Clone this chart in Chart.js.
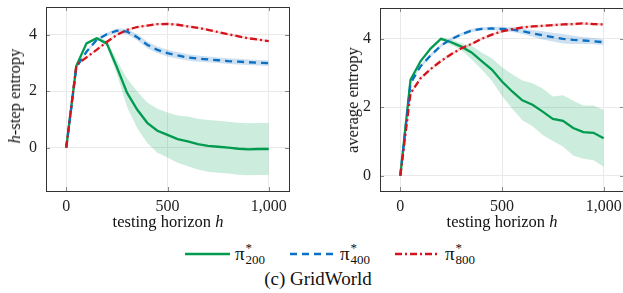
<!DOCTYPE html>
<html>
<head>
<meta charset="utf-8">
<script src="https://cdn.jsdelivr.net/npm/chart.js@4.4.1/dist/chart.umd.min.js"></script>
<style>
  html, body { margin: 0; padding: 0; background: #fff; }
  #wrap { position: relative; width: 623px; height: 293px; font-family: 'Liberation Serif', serif; color: #111; overflow: hidden; }
  canvas { position: absolute; top: 0; }
  .xt { position: absolute; top: 212px; font-size: 16.5px; white-space: nowrap; transform: translateX(-50%); }
  .yt { position: absolute; font-size: 16.5px; white-space: nowrap; transform: translate(-50%, -50%) rotate(-90deg); }
  .leg { position: absolute; top: 243px; height: 22px; display: flex; align-items: center; font-size: 19px; }
  .leg svg { margin-right: 5px; }
  .pi { display: inline-flex; align-items: center; }
  .idx { display: inline-flex; flex-direction: column; font-size: 13px; line-height: 10px; margin-left: 1px; }
  .idx .s { height: 9px; }
  .idx .b { margin-top: 3px; }
  #cap { position: absolute; top: 268px; left: 0; width: 636px; text-align: center; font-size: 19px; }
</style>
</head>
<body>
<div id="wrap">
  <canvas id="c-step" width="310" height="230" style="left:0;width:310px;height:230px"></canvas>
  <canvas id="c-avg" width="314" height="230" style="left:310px;width:314px;height:230px"></canvas>
  <div class="yt" style="left:15px;top:96px"><i>h</i>-step entropy</div>
  <div class="yt" style="left:353px;top:100px">average entropy</div>
  <div class="xt" style="left:168px">testing horizon <i>h</i></div>
  <div class="xt" style="left:502px">testing horizon <i>h</i></div>

  <div class="leg" style="left:185px">
    <svg width="45" height="10"><line x1="0" y1="5" x2="45" y2="5" stroke="#009b4f" stroke-width="2.6"/></svg>
    <span class="pi">π<span class="idx"><span class="s">*</span><span class="b">200</span></span></span>
  </div>
  <div class="leg" style="left:290px">
    <svg width="45" height="10"><line x1="0" y1="5" x2="45" y2="5" stroke="#0a70c4" stroke-width="2.6" stroke-dasharray="7,5"/></svg>
    <span class="pi">π<span class="idx"><span class="s">*</span><span class="b">400</span></span></span>
  </div>
  <div class="leg" style="left:395px">
    <svg width="45" height="10"><line x1="0" y1="5" x2="45" y2="5" stroke="#d4141c" stroke-width="2.6" stroke-dasharray="7,3,2,3"/></svg>
    <span class="pi">π<span class="idx"><span class="s">*</span><span class="b">800</span></span></span>
  </div>
  <div id="cap">(c) GridWorld</div>
</div>

<script>
// abscisse commune
const horizons = [0, 50, 100, 150, 200, 250, 300, 350, 400, 450, 500, 550, 600, 650, 700, 750, 800, 850, 900, 950, 1000];
const xTicks = [0, 500, 1000];
const yTicks = [0, 2, 4];

// h-step entropy (gauche)
const stepGreen  = [0, 2.9, 3.7, 3.88, 3.7, 2.85, 1.95, 1.35, 0.88, 0.6, 0.45, 0.3, 0.22, 0.12, 0.06, 0.03, 0.0, -0.04, -0.06, -0.05, -0.05];
const stepGreenSd = [0, 0.05, 0.05, 0.05, 0.1, 0.25, 0.5, 0.65, 0.72, 0.78, 0.8, 0.84, 0.88, 0.9, 0.92, 0.92, 0.92, 0.92, 0.92, 0.92, 0.92];
const stepBlue   = [0, 2.85, 3.4, 3.82, 4.02, 4.15, 4.12, 3.92, 3.65, 3.47, 3.35, 3.27, 3.2, 3.16, 3.13, 3.1, 3.07, 3.05, 3.03, 3.01, 3.0];
const stepBlueSd = [0, 0.03, 0.04, 0.05, 0.06, 0.08, 0.1, 0.11, 0.12, 0.12, 0.12, 0.12, 0.11, 0.11, 0.1, 0.1, 0.1, 0.1, 0.1, 0.1, 0.1];
const stepRed    = [0, 2.93, 3.2, 3.47, 3.75, 4.0, 4.18, 4.28, 4.33, 4.38, 4.39, 4.36, 4.3, 4.25, 4.18, 4.1, 4.02, 3.95, 3.88, 3.83, 3.78];
const stepRedSd  = [0, 0.03, 0.03, 0.04, 0.04, 0.04, 0.04, 0.04, 0.04, 0.04, 0.04, 0.04, 0.04, 0.04, 0.04, 0.04, 0.04, 0.04, 0.04, 0.04, 0.04];

// average entropy (droite)
const avgGreen   = [0, 2.8, 3.35, 3.72, 4.0, 3.9, 3.77, 3.6, 3.35, 3.1, 2.75, 2.46, 2.2, 2.07, 1.87, 1.66, 1.6, 1.39, 1.27, 1.25, 1.09];
const avgGreenSd = [0, 0.03, 0.03, 0.04, 0.05, 0.08, 0.1, 0.2, 0.25, 0.33, 0.42, 0.5, 0.58, 0.63, 0.68, 0.65, 0.75, 0.8, 0.78, 0.8, 0.83];
const avgBlue    = [0, 2.7, 3.2, 3.52, 3.8, 3.99, 4.13, 4.24, 4.29, 4.3, 4.29, 4.27, 4.22, 4.16, 4.1, 4.05, 4.0, 3.97, 3.95, 3.93, 3.9];
const avgBlueSd  = [0, 0.03, 0.04, 0.05, 0.05, 0.05, 0.05, 0.05, 0.05, 0.05, 0.06, 0.07, 0.08, 0.1, 0.12, 0.13, 0.14, 0.12, 0.1, 0.09, 0.08];
const avgRed     = [0, 2.4, 2.85, 3.12, 3.35, 3.55, 3.72, 3.85, 4.0, 4.12, 4.22, 4.28, 4.33, 4.36, 4.38, 4.4, 4.42, 4.43, 4.45, 4.43, 4.42];
const avgRedSd   = [0, 0.04, 0.04, 0.04, 0.04, 0.04, 0.04, 0.04, 0.04, 0.04, 0.04, 0.04, 0.04, 0.04, 0.04, 0.04, 0.04, 0.04, 0.04, 0.04, 0.04];

const styles = {
  green: { line: '#009b4f', band: 'rgba(0,160,90,0.2)', dash: [], order: 3 },
  blue:  { line: '#0a70c4', band: 'rgba(30,120,200,0.22)', dash: [7, 5], order: 2 },
  red:   { line: '#d4141c', band: 'rgba(235,70,70,0.22)', dash: [7, 3, 2, 3], order: 1 },
};

const pts = (ys) => horizons.map((x, i) => ({ x, y: ys[i] }));

function buildDatasets(series) {
  const ds = [];
  series.forEach(([name, mean, sd]) => {
    const st = styles[name];
    const lowIdx = ds.length;
    ds.push({ data: pts(mean.map((m, i) => m - sd[i])), borderWidth: 0, pointRadius: 0, fill: false, order: 10 });
    ds.push({ data: pts(mean.map((m, i) => m + sd[i])), borderWidth: 0, pointRadius: 0, fill: lowIdx, backgroundColor: st.band, order: 10 });
    ds.push({ data: pts(mean), borderColor: st.line, borderWidth: 2.3, borderDash: st.dash, pointRadius: 0, fill: false, tension: 0, order: st.order });
  });
  return ds;
}

// cadre + petites graduations à l'intérieur, façon pgfplots
const framePlugin = {
  id: 'frame',
  afterDatasetsDraw(chart) {
    const { ctx, chartArea: a, scales } = chart;
    ctx.save();
    ctx.strokeStyle = '#888';
    ctx.lineWidth = 1;
    ctx.beginPath();
    xTicks.forEach(v => {
      const px = Math.round(scales.x.getPixelForValue(v)) + 0.5;
      ctx.moveTo(px, a.top); ctx.lineTo(px, a.top + 4);
      ctx.moveTo(px, a.bottom); ctx.lineTo(px, a.bottom - 4);
    });
    yTicks.forEach(v => {
      const py = Math.round(scales.y.getPixelForValue(v)) + 0.5;
      ctx.moveTo(a.left, py); ctx.lineTo(a.left + 4, py);
      ctx.moveTo(a.right, py); ctx.lineTo(a.right - 4, py);
    });
    ctx.stroke();
    ctx.strokeStyle = '#333';
    ctx.strokeRect(Math.round(a.left) + 0.5, Math.round(a.top) + 0.5, Math.round(a.right - a.left), Math.round(a.bottom - a.top));
    ctx.restore();
  }
};

Chart.defaults.font.family = "'Liberation Serif', serif";
const tickFont = { family: "'Liberation Serif', serif", size: 16 };

function makeChart(id, series, yMin, yMax, yWidth, padding) {
  return new Chart(document.getElementById(id), {
    type: 'line',
    data: { datasets: buildDatasets(series) },
    options: {
      responsive: false,
      animation: false,
      layout: { padding },
      plugins: { legend: { display: false }, tooltip: { enabled: false } },
      scales: {
        x: {
          type: 'linear', min: -100, max: 1100,
          afterBuildTicks: s => { s.ticks = xTicks.map(value => ({ value })); },
          afterFit: s => { s.height = 39; s.paddingLeft = 0; s.paddingRight = 0; },
          grid: { color: '#e9e9e9', drawTicks: false },
          border: { display: false },
          ticks: { color: '#222', font: tickFont, padding: 6, maxRotation: 0, callback: v => v.toLocaleString('en-US') },
        },
        y: {
          min: yMin, max: yMax,
          afterBuildTicks: s => { s.ticks = yTicks.map(value => ({ value })); },
          afterFit: s => { s.width = yWidth; s.paddingTop = 0; s.paddingBottom = 0; },
          grid: { color: '#e9e9e9', drawTicks: false },
          border: { display: false },
          ticks: { color: '#222', font: tickFont, padding: 9 },
        },
      },
    },
    plugins: [framePlugin],
  });
}

makeChart('c-step', [['green', stepGreen, stepGreenSd], ['blue', stepBlue, stepBlueSd], ['red', stepRed, stepRedSd]],
  -1.54, 4.99, 46, { top: 7, right: 21, left: 0, bottom: 0 });
makeChart('c-avg', [['green', avgGreen, avgGreenSd], ['blue', avgBlue, avgBlueSd], ['red', avgRed, avgRedSd]],
  -0.45, 4.9, 70, { top: 8, right: 0, left: 0, bottom: 0 });
</script>
</body>
</html>
